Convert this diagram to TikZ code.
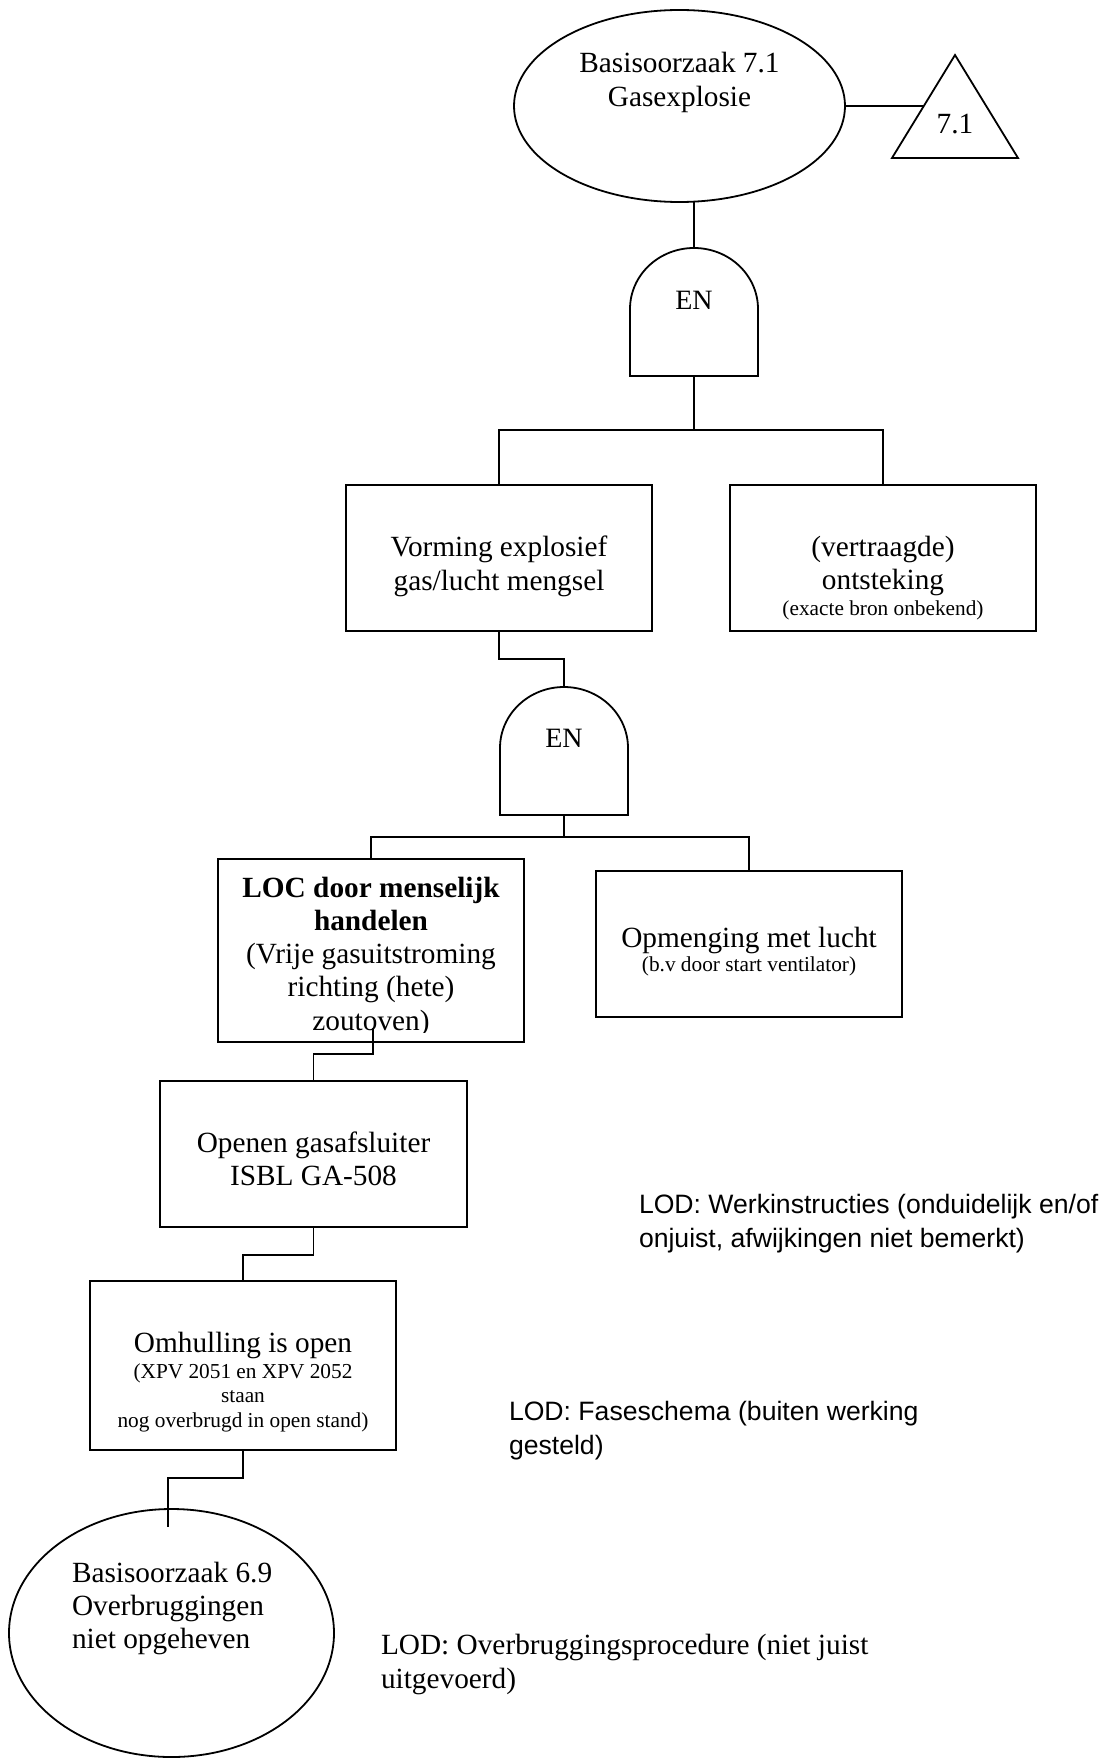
\documentclass[tikz,border=0pt]{standalone}
\usepackage{fontspec}
\setmainfont{Liberation Serif}
\newfontfamily\arialf{Liberation Sans}
\usetikzlibrary{shapes.geometric,calc}
\newcommand{\mytl}[4]{\fontsize{#1}{#2}\selectfont\begin{tabular}[t]{@{}#3@{}}#4\end{tabular}}
\newcommand{\smallt}{\fontsize{21.3}{24.5}\selectfont}
\newcommand{\bigt}{\fontsize{29.3}{33.5}\selectfont}
\begin{document}
\begin{tikzpicture}[x=1pt,y=-1pt,line width=1.8pt,
  every node/.style={inner sep=0pt,outer sep=0pt},
  box/.style={draw,rectangle,minimum width=306pt},
  gatebox/.style={rectangle,minimum width=128pt,minimum height=128pt},
  txt/.style={anchor=base},
  ltxt/.style={anchor=base west}]
\useasboundingbox (0,0) rectangle (1108,1758);

% top event
\node[ellipse,draw,minimum width=331pt,minimum height=192pt] (e1) at (679.5,106) {};
\node[txt] (e1t) at (679.5,73) {\mytl{29.3}{34}{c}{Basisoorzaak 7.1\\Gasexplosie}};
\node[rectangle,minimum width=126pt,minimum height=103pt] (tri) at (955,106.5) {};
\draw (tri.north) -- (tri.south east) -- (tri.south west) -- cycle;
\node[txt] (trit) at (955,133) {\bigt 7.1};
\coordinate (trileft) at ($(tri.north)!0.495!(tri.south west)$);

% gate 1
\node[gatebox] (g1) at (694,312) {};
\draw (g1.south west) -- ++(0,-67) arc[start angle=180,end angle=0,x radius=64pt,y radius=61pt] -- (g1.south east) -- cycle;
\node[txt] (g1t) at (694,309) {\fontsize{28}{32}\selectfont EN};

% level 2 boxes
\node[box,minimum height=146pt] (b1) at (499,558) {};
\node[txt] (b1t) at (499,556) {\mytl{29.3}{34}{c}{Vorming explosief\\gas/lucht mengsel}};
\node[box,minimum height=146pt] (b2) at (883,558) {};
\node[txt] (b2t) at (883,556) {\mytl{29.3}{33.5}{c}{(vertraagde)\\ontsteking\\[-7.5pt]{\smallt (exacte bron onbekend)}}};

% gate 2
\node[gatebox] (g2) at (564,751) {};
\draw (g2.south west) -- ++(0,-67) arc[start angle=180,end angle=0,x radius=64pt,y radius=61pt] -- (g2.south east) -- cycle;
\node[txt] (g2t) at (564,747) {\fontsize{28}{32}\selectfont EN};

% level 3 boxes
\node[box,minimum height=183pt] (b3) at (371,950.5) {};
\begin{scope}
\clip (b3.north west) rectangle ($(b3.south east)+(0,-10)$);
\node[txt] (b3t) at (371,897) {\mytl{29.3}{33.3}{c}{{\bfseries LOC door menselijk}\\{\bfseries handelen}\\(Vrije gasuitstroming\\richting (hete)\\zoutoven)}};
\end{scope}
\node[box,minimum height=146pt] (b4) at (749,944) {};
\node[txt] (b4t) at (749,947) {\mytl{29.3}{33.5}{c}{Opmenging met lucht\\[-9.5pt]{\smallt (b.v door start ventilator)}}};

% chain
\node[box,minimum width=307pt,minimum height=146pt] (b5) at (313.5,1154) {};
\node[txt] (b5t) at (313.5,1152) {\mytl{29.3}{33}{c}{Openen gasafsluiter\\ISBL GA-508}};
\node[box,minimum height=169pt] (b6) at (243,1365.5) {};
\node[txt] (b6t) at (243,1352) {\mytl{21.3}{24.5}{c}{{\bigt Omhulling is open}\\[1.5pt](XPV 2051 en XPV 2052\\staan\\nog overbrugd in open stand)}};
\node[ellipse,draw,minimum width=325pt,minimum height=248pt] (e2) at (171.5,1633) {};
\node[ltxt] (e2t) at (72,1582) {\mytl{29.3}{33}{l}{Basisoorzaak 6.9\\Overbruggingen\\niet opgeheven}};

% LOD notes
\node[ltxt] (lod1) at (639,1213) {\arialf\mytl{26.6}{34}{l}{LOD: Werkinstructies (onduidelijk en/of\\onjuist, afwijkingen niet bemerkt)}};
\node[ltxt] (lod2) at (509,1420) {\arialf\mytl{26.6}{34}{l}{LOD: Faseschema (buiten werking\\gesteld)}};
\node[ltxt] (lod3) at (381,1654) {\mytl{29.3}{34}{l}{LOD: Overbruggingsprocedure (niet juist\\uitgevoerd)}};

% junction coordinates
\coordinate (bar1) at (694,430);
\coordinate (j1) at (564,659);
\coordinate (bar2) at (564,837);
\coordinate (locout) at ($(b3.south)+(2,-14)$);
\coordinate (j2) at (0,1054);
\coordinate (j3) at (0,1255);
\coordinate (j4) at (0,1478);
\coordinate (e2in) at (168,1527);

% connectors
\draw (e1.east) -- (e1.east -| trileft);
\draw (e1.south -| g1.north) -- (g1.north);
\draw (g1.south) -- (bar1);
\draw (b1.north) |- (bar1) -| (b2.north);
\draw (b1.south) -- (b1.south |- j1) -| (g2.north);
\draw (g2.south) -- (bar2);
\draw (b3.north) |- (bar2) -| (b4.north);
\draw (locout) -- (locout |- j2) -| (b5.north);
\draw (b5.south) -- (b5.south |- j3) -| (b6.north);
\draw (b6.south) -- (b6.south |- j4) -| (e2in);
\end{tikzpicture}
\end{document}
